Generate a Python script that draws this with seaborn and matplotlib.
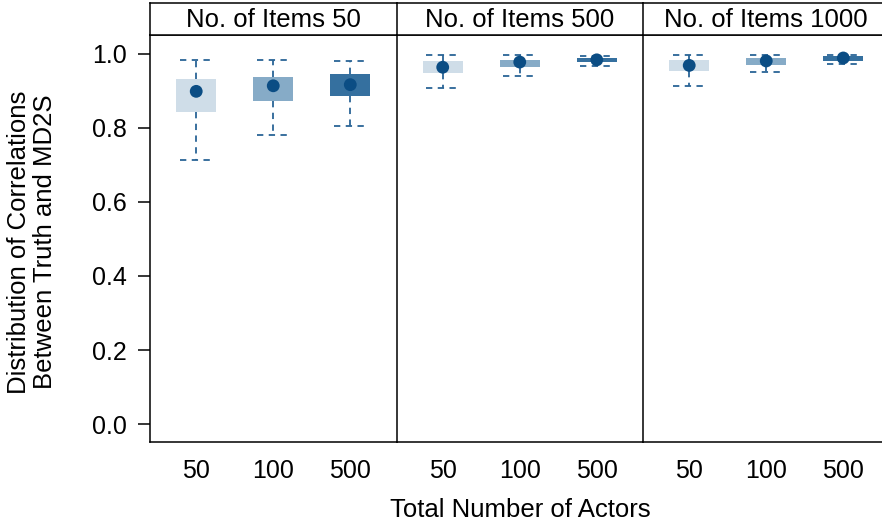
import pandas as pd
import matplotlib
matplotlib.use("Agg")
import matplotlib.pyplot as plt
import seaborn as sns

# summary stats (panel = No. of Items, box = No. of Actors)
items = [50, 500, 1000]
actors = ["50", "100", "500"]
med = [[0.898, 0.913, 0.916], [0.963, 0.977, 0.983], [0.968, 0.980, 0.988]]
q1 = [[0.841, 0.873, 0.885], [0.947, 0.964, 0.977], [0.953, 0.969, 0.981]]
q3 = [[0.931, 0.938, 0.944], [0.979, 0.983, 0.988], [0.982, 0.987, 0.993]]
lo = [[0.712, 0.781, 0.804], [0.907, 0.939, 0.967], [0.913, 0.949, 0.973]]
hi = [[0.983, 0.983, 0.981], [0.997, 0.997, 0.993], [0.997, 0.997, 0.995]]

box_colors = ["#cfdde8", "#86abc7", "#35709f"]
dot_color = "#0b4d84"
whisk_color = "#2a6496"

sns.set_theme(style="white")
plt.rcParams["font.family"] = ["Liberation Sans", "DejaVu Sans"]
plt.rcParams["axes.linewidth"] = 1.1
plt.rcParams["text.color"] = "black"
plt.rcParams["xtick.color"] = "black"
plt.rcParams["ytick.color"] = "black"
plt.rcParams["xtick.labelcolor"] = "black"
plt.rcParams["ytick.labelcolor"] = "black"

rows = []
for i, n in enumerate(items):
    for j, a in enumerate(actors):
        rows.append({"items": n, "actors": a, "pos": j, "med": med[i][j], "q1": q1[i][j],
                     "q3": q3[i][j], "lo": lo[i][j], "hi": hi[i][j]})
df = pd.DataFrame(rows)

fig = plt.figure(figsize=(8.82, 5.27), dpi=100)
W, H = 882, 527
left_px, pw = 150, 246.5
bottom_px, top_px, strip_top = 442, 35, 3

for i, n in enumerate(items):
    x0 = (left_px + i * pw) / W
    ax = fig.add_axes([x0, 1 - bottom_px / H, pw / W, (bottom_px - top_px) / H])
    sub = df[df["items"] == n]
    stats = [{"med": r.med, "q1": r.q1, "q3": r.q3, "whislo": r.lo, "whishi": r.hi, "fliers": []}
             for r in sub.itertuples()]
    bp = ax.bxp(stats, positions=sub["pos"].tolist(), widths=0.52, capwidths=0.43,
                patch_artist=True, showfliers=False,
                whiskerprops=dict(color=whisk_color, lw=1.3, ls=(0, (3.5, 3))),
                capprops=dict(color=whisk_color, lw=1.3, ls=(0, (3.5, 3))),
                medianprops=dict(lw=0))
    for patch, c in zip(bp["boxes"], box_colors):
        patch.set_facecolor(c)
        patch.set_edgecolor("none")
        patch.set_zorder(1)
    sns.scatterplot(data=sub, x="pos", y="med", color=dot_color, s=85, edgecolor="none",
                    zorder=3, ax=ax, legend=False)
    ax.set_xlim(-0.6, 2.6)
    ax.set_ylim(-0.048, 1.05)
    ax.set_xticks([0, 1, 2])
    ax.set_xticklabels(actors, fontsize=18)
    ax.tick_params(axis="x", length=0, pad=12)
    ax.set_xlabel("")
    ax.set_ylabel("")
    for s in ["left", "bottom", "top", "right"]:
        ax.spines[s].set_color("black")
    ax.spines["right"].set_visible(False)
    if i == 0:
        ax.set_yticks([0, 0.2, 0.4, 0.6, 0.8, 1.0])
        ax.set_yticklabels(["0.0", "0.2", "0.4", "0.6", "0.8", "1.0"], fontsize=18)
        ax.tick_params(axis="y", left=True, length=9, width=1.1, color="black", pad=8)
    else:
        ax.set_yticks([])

    # strip header
    sax = fig.add_axes([x0, 1 - top_px / H, pw / W, (top_px - strip_top) / H])
    sax.set_xticks([])
    sax.set_yticks([])
    for s in sax.spines.values():
        s.set_color("black")
    sax.spines["right"].set_visible(False)
    sax.text(0.5, 0.48, f"No. of Items {n}", ha="center", va="center", fontsize=18.5,
             transform=sax.transAxes)

fig.text(520 / W, 1 - 510 / H, "Total Number of Actors", ha="center", va="center", fontsize=18.5)
fig.text(32 / W, 1 - 242 / H, "Distribution of Correlations\nBetween Truth and MD2S",
         ha="center", va="center", rotation=90, fontsize=18.5, linespacing=1.15)

plt.savefig("out.png", dpi=100)
